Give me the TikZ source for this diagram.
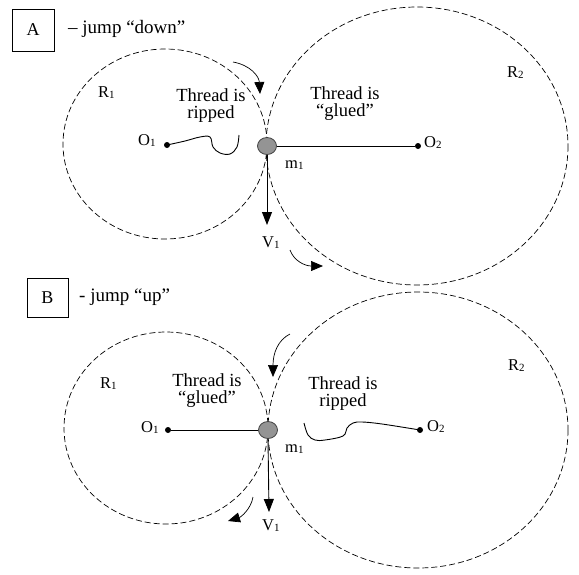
\documentclass[tikz,border=0pt]{standalone}
\usepackage{fontspec}
\setmainfont{Liberation Serif}
\usetikzlibrary{arrows.meta,shapes.geometric}
\newcommand\sbsc[1]{\raisebox{-0.12em}{\fontsize{11}{11}\selectfont #1}}
\begin{document}
\begin{tikzpicture}[x=1pt,y=-1pt,
  orbit/.style={line width=0.7pt, dash pattern=on 6pt off 3pt},
  thread/.style={line width=0.9pt},
  vel/.style={line width=0.9pt, -{Triangle[length=13pt,width=10pt]}},
  turn/.style={line width=0.7pt, -{Triangle[length=12pt,width=10pt]}},
  pivot/.style={circle, fill=black, inner sep=0pt, minimum size=6pt},
  mass/.style={ellipse, draw=black!75, fill=black!42, line width=0.8pt, minimum width=19pt, minimum height=17pt, inner sep=0pt},
  lbl/.style={font=\fontsize{16.5}{16.5}\selectfont, inner sep=0pt, anchor=base west},
  big/.style={font=\fontsize{18.5}{17}\selectfont, align=center, inner sep=0pt, anchor=base},
  head/.style={font=\fontsize{19}{19}\selectfont, inner sep=0pt, anchor=base west},
  tag/.style={draw, line width=0.8pt, font=\fontsize{18}{18}\selectfont, inner sep=0pt}]
\useasboundingbox (0,0) rectangle (579,574);

% ---------------- Panel A ----------------
\node[tag, minimum width=42pt, minimum height=42pt] (boxA) at (33,30) {A};
\node[head] (headA) at (68,33) {– jump “down”};

\draw[orbit] (165,144) ellipse [x radius=102, y radius=95];
\draw[orbit] (417,146) ellipse [x radius=151, y radius=139];

\node[pivot] (O1A) at (167,145) {};
\node[pivot] (O2A) at (418,146) {};
\node[mass] (m1A) at (267,146) {};

\draw[thread] (m1A) -- (O2A);
\draw[thread] plot[smooth, tension=0.6] coordinates {(O1A) (185,141) (200,137) (210,137) (213,147) (220,153) (230,154) (237,147) (239,135)};

\coordinate (vA) at (267,225);
\draw[vel] (m1A.south) -- (vA);

\coordinate (tA1) at (233,62);
\coordinate (tA2) at (260,94);
\draw[turn] (tA1) .. controls (250,65) and (259,76) .. (tA2);
\coordinate (bA1) at (290,250);
\coordinate (bA2) at (323,266);
\draw[turn] (bA1) .. controls (294,261) and (305,266) .. (bA2);

\node[lbl] (R1A) at (98,97) {R\sbsc{1}};
\node[lbl] (R2A) at (507,77) {R\sbsc{2}};
\node[lbl] (O1Al) at (138,145) {O\sbsc{1}};
\node[lbl] (O2Al) at (424,147) {O\sbsc{2}};
\node[lbl] (m1Al) at (285,168) {m\sbsc{1}};
\node[lbl] (V1Al) at (262,247) {V\sbsc{1}};

\node[big] (thA1) at (211,118) {Thread is\\ripped};
\node[big] (thA2) at (345,116) {Thread is\\“glued”};

% ---------------- Panel B ----------------
\node[tag, minimum width=41pt, minimum height=39pt] (boxB) at (47.5,297.5) {B};
\node[head] (headB) at (79,301) {- jump “up”};

\draw[orbit] (166,428) ellipse [x radius=102, y radius=96];
\draw[orbit] (418,430) ellipse [x radius=150, y radius=138];

\node[pivot] (O1B) at (168,430) {};
\node[pivot] (O2B) at (420,430) {};
\node[mass] (m1B) at (268,430) {};

\draw[thread] (O1B) -- (m1B);
\draw[thread] plot[smooth, tension=0.6] coordinates {(304,423) (308,435) (315,440) (325,440) (343,436) (347,428) (353,423) (362,422) (382,424) (O2B)};

\coordinate (vB) at (269,512);
\draw[vel] (m1B.south) -- (vB);

\coordinate (tB1) at (290,334);
\coordinate (tB2) at (273,377);
\draw[turn] (tB1) .. controls (278,340) and (273,353) .. (tB2);
\coordinate (bB1) at (253,497);
\coordinate (bB2) at (228,521);
\draw[turn] (bB1) .. controls (251,509) and (241,517) .. (bB2);

\node[lbl] (R1B) at (100,388) {R\sbsc{1}};
\node[lbl] (R2B) at (508,370) {R\sbsc{2}};
\node[lbl] (O1Bl) at (141,432) {O\sbsc{1}};
\node[lbl] (O2Bl) at (427,431) {O\sbsc{2}};
\node[lbl] (m1Bl) at (285,452) {m\sbsc{1}};
\node[lbl] (V1Bl) at (262,530) {V\sbsc{1}};

\node[big] (thB1) at (207,403) {Thread is\\“glued”};
\node[big] (thB2) at (343,406) {Thread is\\ripped};
\end{tikzpicture}
\end{document}
